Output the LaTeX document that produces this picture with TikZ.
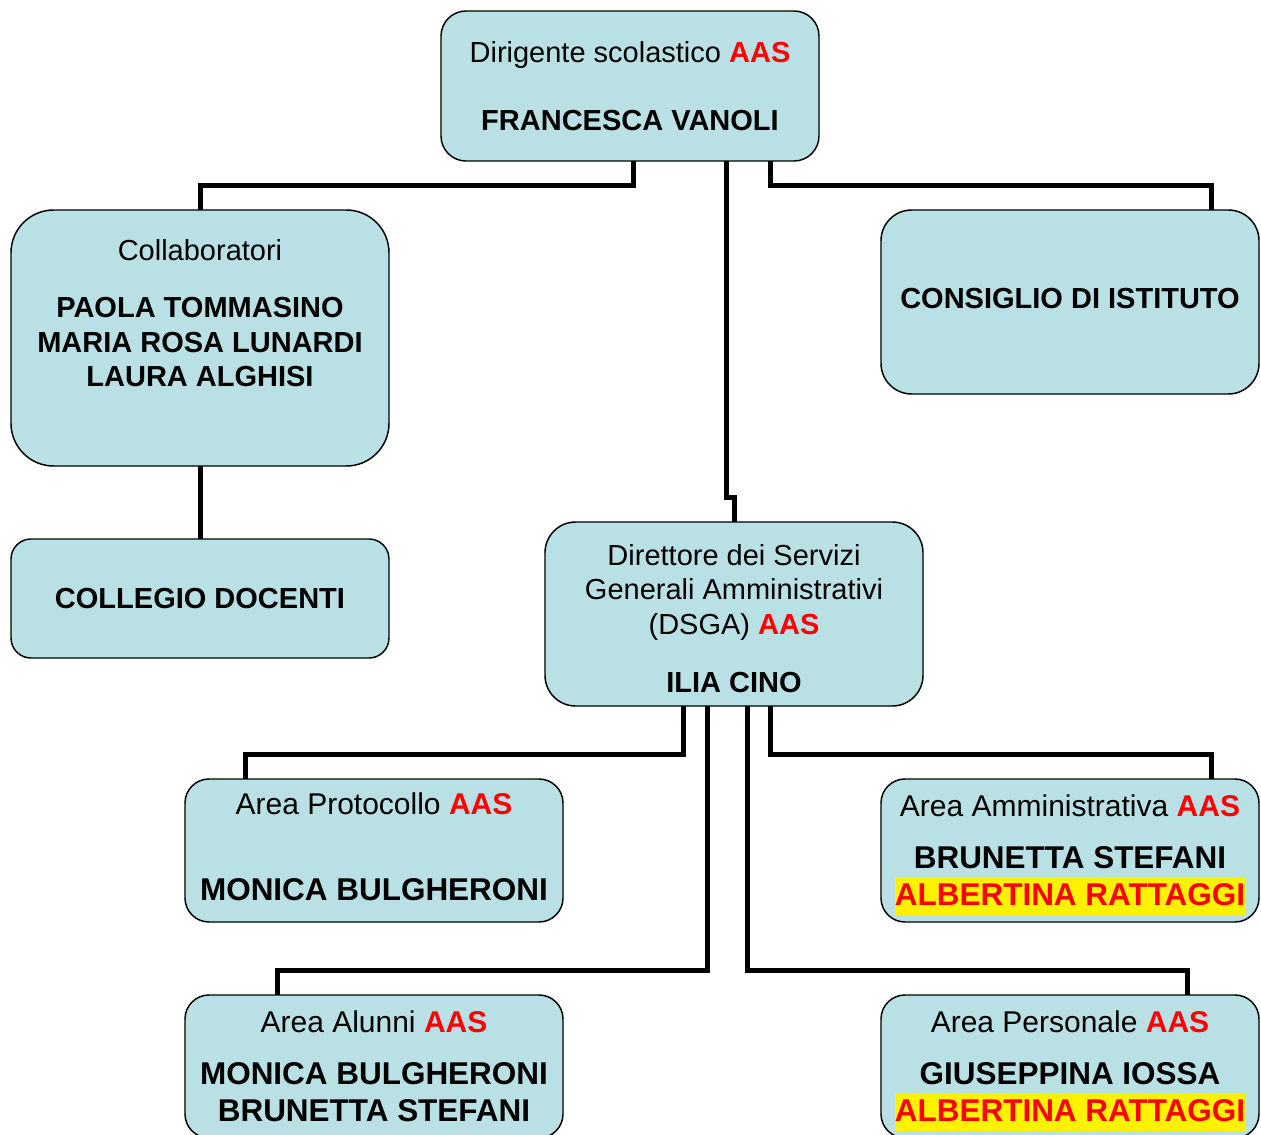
\documentclass[tikz,border=0pt]{standalone}
\usepackage{fontspec}
\setmainfont{Liberation Sans}
\usetikzlibrary{calc}
\definecolor{boxblue}{RGB}{185,224,228}
\newcommand\aas{\textcolor{red}{\bfseries AAS}}
\newcommand\headsize{\fontsize{22.5pt}{27.75pt}\selectfont}
\newcommand\hlname[1]{{\setlength\fboxsep{0pt}\colorbox{yellow}{\rule[-0.28em]{0pt}{1.2em}\textcolor{red}{\bfseries #1}}}}

\begin{document}
\begin{tikzpicture}[x=0.75pt,y=-0.75pt,
  box/.style={draw, line width=1.1pt, fill=boxblue, align=center, inner sep=0pt, outer sep=0pt, minimum width=283.5pt},
  upper/.style={box, font={\fontsize{21.75pt}{25.9pt}\selectfont}},
  lower/.style={box, font={\fontsize{23.6pt}{27.75pt}\selectfont}, minimum height=107.25pt, rounded corners=18pt},
  link/.style={line width=3.75pt}]
  \useasboundingbox (0,0) rectangle (1261,1135);

  \node[upper, minimum height=112.5pt, rounded corners=18.75pt] (dir) at (630,86)
    {Dirigente scolastico \aas\\[25pt]\bfseries FRANCESCA VANOLI};
  \node[upper, minimum height=192pt, rounded corners=32pt, text depth=37.5pt] (collab) at (200,338)
    {Collaboratori\\[17pt]\bfseries PAOLA TOMMASINO\\\bfseries MARIA ROSA LUNARDI\\\bfseries LAURA ALGHISI};
  \node[upper, minimum height=138pt, rounded corners=23pt, text depth=6pt] (consiglio) at (1070,302)
    {\bfseries CONSIGLIO DI ISTITUTO};
  \node[upper, minimum height=89.25pt, rounded corners=15pt] (collegio) at (200,598.5)
    {\bfseries COLLEGIO DOCENTI};
  \node[upper, minimum height=138pt, rounded corners=23pt] (dsga) at (734,614)
    {\rule{0pt}{22.5pt}Direttore dei Servizi\\Generali Amministrativi\\(DSGA) \aas\\[17.6pt]\bfseries ILIA CINO};

  \node[lower, text depth=5.25pt] (prot) at (374,850.5)
    {\headsize Area Protocollo \aas\\[36.75pt]\bfseries MONICA BULGHERONI};
  \node[lower, text depth=0pt] (ammin) at (1070,850.5)
    {\headsize Area Amministrativa \aas\\[11.25pt]\bfseries BRUNETTA STEFANI\\\hlname{ALBERTINA RATTAGGI}};
  \node[lower] (alunni) at (374,1066.5)
    {\headsize Area Alunni \aas\\[11.25pt]\bfseries MONICA BULGHERONI\\\bfseries BRUNETTA STEFANI};
  \node[lower, text depth=0pt] (pers) at (1070,1066.5)
    {\headsize Area Personale \aas\\[11.25pt]\bfseries GIUSEPPINA IOSSA\\\hlname{ALBERTINA RATTAGGI}};

  % dirigente
  \draw[link] ($(dir.south)+(3,0)$) -- ++(0,24) -| (collab.north);
  \draw[link] ($(dir.south)+(96,0)$) -- ++(0,336) -| (dsga.north);
  \draw[link] ($(dir.south)+(140,0)$) -- ++(0,24) -| ($(consiglio.north)+(141,0)$);
  \draw[link] (collab.south) -- (collegio.north);
  % dsga
  \draw[link] ($(dsga.south)+(-51,0)$) -- ++(0,48) -| ($(prot.north)+(-129,0)$);
  \draw[link] ($(dsga.south)+(-27,0)$) -- ++(0,264) -| ($(alunni.north)+(-97,0)$);
  \draw[link] ($(dsga.south)+(13,0)$) -- ++(0,264) -| ($(pers.north)+(117,0)$);
  \draw[link] ($(dsga.south)+(36,0)$) -- ++(0,48) -| ($(ammin.north)+(141,0)$);
\end{tikzpicture}
\end{document}
